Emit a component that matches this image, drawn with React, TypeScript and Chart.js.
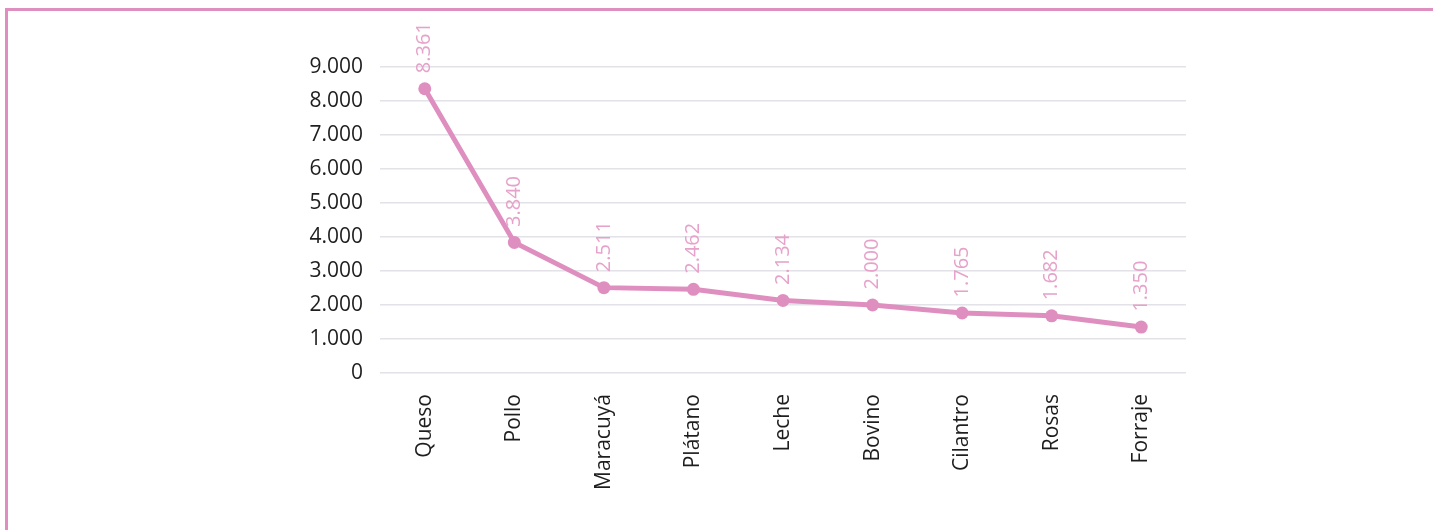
import React, { useEffect, useRef } from "react";
import { Chart, registerables } from "chart.js";

Chart.register(...registerables);

const categories = ["Queso", "Pollo", "Maracuyá", "Plátano", "Leche", "Bovino", "Cilantro", "Rosas", "Forraje"];
const values = [8361, 3840, 2511, 2462, 2134, 2000, 1765, 1682, 1350];
const yTicks = [0, 1000, 2000, 3000, 4000, 5000, 6000, 7000, 8000, 9000];

const LINE = "#df8fbf";
const LABEL = "#e6a2ca";
const FONT = "'Open Sans', 'Noto Sans', sans-serif";

const fmt = (v: number) => v.toLocaleString("de-DE");

const labelPlugin = {
  id: "vlabels",
  afterDatasetsDraw(chart: any) {
    const { ctx } = chart;
    const meta = chart.getDatasetMeta(0);
    ctx.save();
    ctx.fillStyle = LABEL;
    ctx.font = `20px ${FONT}`;
    ctx.textAlign = "left";
    ctx.textBaseline = "middle";
    meta.data.forEach((pt: any, i: number) => {
      ctx.save();
      ctx.translate(pt.x, pt.y - 15.5);
      ctx.rotate(-Math.PI / 2);
      ctx.fillText(fmt(values[i]), 0, 0);
      ctx.restore();
    });
    ctx.restore();
  },
};

export default function App() {
  const ref = useRef<HTMLCanvasElement>(null);
  useEffect(() => {
    if (!ref.current) return;
    const chart = new Chart(ref.current, {
      type: "line",
      data: {
        labels: categories,
        datasets: [
          {
            data: values,
            borderColor: LINE,
            backgroundColor: LINE,
            borderWidth: 5,
            pointRadius: 6.5,
            pointHoverRadius: 6.5,
            pointBackgroundColor: LINE,
            pointBorderWidth: 0,
            tension: 0,
          },
        ],
      },
      options: {
        animation: false,
        responsive: false,
        layout: { padding: { left: 300, right: 247, top: 67, bottom: 7 } },
        plugins: { legend: { display: false }, tooltip: { enabled: false } },
        scales: {
          x: {
            offset: true,
            grid: { display: false, drawTicks: false },
            border: { display: false },
            ticks: {
              minRotation: 90,
              maxRotation: 90,
              padding: 21,
              color: "#1e1e1e",
              font: { family: FONT, size: 21 },
            },
            afterFit: (s: any) => {
              s.height = 150;
            },
          },
          y: {
            min: 0,
            max: 9000,
            afterBuildTicks: (s: any) => {
              s.ticks = yTicks.map((v) => ({ value: v }));
            },
            grid: { color: "#e2e2e8", lineWidth: 1.5, drawTicks: false },
            border: { display: false },
            ticks: {
              padding: 17,
              color: "#1e1e1e",
              font: { family: FONT, size: 21 },
              callback: (v: any) => fmt(Number(v)),
            },
            afterFit: (s: any) => {
              s.width = 80;
            },
          },
        },
      },
      plugins: [labelPlugin],
    });
    return () => chart.destroy();
  }, []);
  return (
    <div style={{ position: "fixed", inset: 0, overflow: "hidden", background: "#fff" }}>
      <div
        style={{
          position: "absolute",
          left: 5,
          top: 8,
          width: 2000,
          height: 2000,
          borderLeft: `3px solid ${LINE}`,
          borderTop: `3px solid ${LINE}`,
        }}
      />
      <canvas ref={ref} width={1433} height={530} style={{ position: "absolute", left: 0, top: 0 }} />
    </div>
  );
}
